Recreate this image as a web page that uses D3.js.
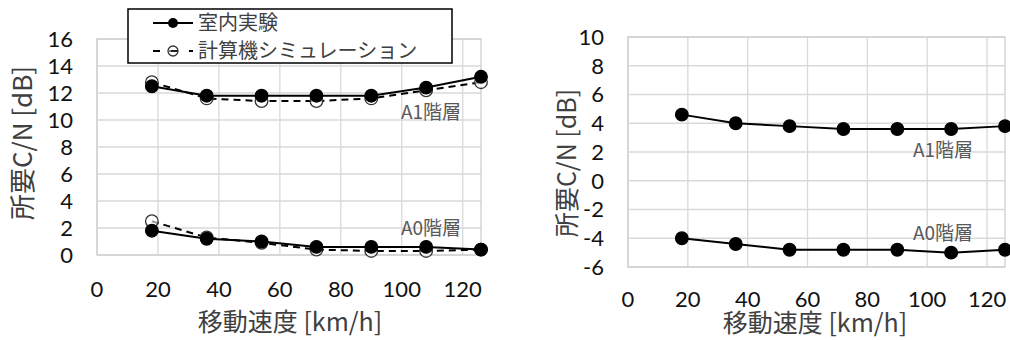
<!DOCTYPE html>
<html><head><meta charset="utf-8">
<script src="https://cdn.jsdelivr.net/npm/d3@7"></script>
<style>
html,body{margin:0;padding:0;background:#fff;}
svg{display:block;font-family:"Noto Sans CJK JP","Noto Sans",sans-serif;}
.tick{font-family:Lato,"Noto Sans",sans-serif;}
</style></head>
<body><svg id="c" width="1010" height="340"></svg>
<script>
// ---- data ----
const speeds = [18, 36, 54, 72, 90, 108, 126];
const xTicks = [0, 20, 40, 60, 80, 100, 120];
const leftYTicks = [0, 2, 4, 6, 8, 10, 12, 14, 16];
const rightYTicks = [-6, -4, -2, 0, 2, 4, 6, 8, 10];
const leftA1Exp = [12.5, 11.8, 11.8, 11.8, 11.8, 12.4, 13.2];
const leftA1Sim = [12.8, 11.6, 11.4, 11.4, 11.6, 12.2, 12.8];
const leftA0Exp = [1.8, 1.2, 1.0, 0.6, 0.6, 0.6, 0.4];
const leftA0Sim = [2.5, 1.3, 0.9, 0.4, 0.3, 0.3, 0.4];
const rightA1 = [4.6, 4.0, 3.8, 3.6, 3.6, 3.6, 3.8];
const rightA0 = [-4.0, -4.4, -4.8, -4.8, -4.8, -5.0, -4.8];
const legendLabels = ["室内実験", "計算機シミュレーション"];
const xTitle = "移動速度 [km/h]";
const yTitle = "所要C/N [dB]";
const layerLabels = ["A1階層", "A0階層"];

const svg = d3.select("#c");

function panel(cfg) {
  const g = svg.append("g");
  const x = d3.scaleLinear().domain([0, 126]).range([cfg.x0, cfg.x1]);
  const y = d3.scaleLinear().domain(cfg.yDomain).range([cfg.y0, cfg.y1]);
  // grid
  g.append("g").selectAll("line").data(xTicks).join("line")
    .attr("x1", d => x(d)).attr("x2", d => x(d))
    .attr("y1", cfg.y0).attr("y2", cfg.y1)
    .attr("stroke", "#d9d9d9").attr("stroke-width", 1.3);
  g.append("g").selectAll("line").data(cfg.yTicks).join("line")
    .attr("x1", cfg.x0).attr("x2", cfg.x1)
    .attr("y1", d => y(d)).attr("y2", d => y(d))
    .attr("stroke", "#d9d9d9").attr("stroke-width", 1.3);
  g.append("rect").attr("x", cfg.x0).attr("y", cfg.y1)
    .attr("width", cfg.x1 - cfg.x0).attr("height", cfg.y0 - cfg.y1)
    .attr("fill", "none").attr("stroke", "#d0d0d0").attr("stroke-width", 1.3);
  // y tick labels
  g.append("g").attr("class", "tick").selectAll("text").data(cfg.yTicks).join("text")
    .attr("x", cfg.yLabelX).attr("y", d => y(d)).attr("dy", "0.36em")
    .attr("text-anchor", "end").attr("font-size", 22).attr("fill", "#111")
    .text(d => d);
  // x tick labels
  g.append("g").attr("class", "tick").selectAll("text").data(xTicks).join("text")
    .attr("x", d => x(d)).attr("y", cfg.xLabelY).attr("dy", "0.36em")
    .attr("text-anchor", "middle").attr("font-size", 22).attr("fill", "#111")
    .text(d => d);
  // titles
  g.append("text").attr("x", cfg.xTitleX).attr("y", cfg.xTitleY).attr("dy", "0.36em")
    .attr("text-anchor", "middle").attr("font-size", 25).attr("fill", "#404040").text(xTitle);
  g.append("text").attr("transform", `translate(${cfg.yTitleX},${cfg.yTitleY}) rotate(-90)`)
    .attr("dy", "0.36em").attr("text-anchor", "middle").attr("font-size", cfg.yTitleSize)
    .attr("fill", "#404040").text(yTitle);
  // annotations
  cfg.labels.forEach((l, i) => {
    g.append("text").attr("x", l[0]).attr("y", l[1]).attr("dy", "0.36em")
      .attr("text-anchor", "middle").attr("font-size", 19).attr("fill", "#595959")
      .text(layerLabels[i]);
  });
  const line = d3.line().x((d, i) => x(speeds[i])).y(d => y(d));
  function series(vals, dashed, filled) {
    g.append("path").datum(vals).attr("d", line).attr("fill", "none")
      .attr("stroke", "#000").attr("stroke-width", 2)
      .attr("stroke-dasharray", dashed ? "7,5" : null);
    g.append("g").selectAll("circle").data(vals).join("circle")
      .attr("cx", (d, i) => x(speeds[i])).attr("cy", d => y(d)).attr("r", 6.3)
      .attr("fill", filled ? "#000" : "#fff").attr("fill-opacity", filled ? 1 : 0.6)
      .attr("stroke", filled ? "#000" : "#333").attr("stroke-width", 1.3);
  }
  cfg.series.forEach(s => series(s[0], s[1], s[2]));
  return g;
}

panel({
  x0: 97, x1: 481, y0: 255, y1: 39, yDomain: [0, 16], yTicks: leftYTicks,
  yLabelX: 73, xLabelY: 289, xTitleX: 290, xTitleY: 322, yTitleX: 23, yTitleY: 143, yTitleSize: 26,
  labels: [[431, 112], [431, 228]],
  series: [[leftA1Sim, true, false], [leftA0Sim, true, false], [leftA1Exp, false, true], [leftA0Exp, false, true]]
});
panel({
  x0: 628, x1: 1005, y0: 267, y1: 37, yDomain: [-6, 10], yTicks: rightYTicks,
  yLabelX: 604, xLabelY: 299, xTitleX: 815, xTitleY: 323, yTitleX: 567, yTitleY: 163, yTitleSize: 25,
  labels: [[943, 150], [943, 233]],
  series: [[rightA1, false, true], [rightA0, false, true]]
});

// legend
const lg = svg.append("g");
lg.append("rect").attr("x", 128).attr("y", 9).attr("width", 324).attr("height", 54)
  .attr("fill", "#fff").attr("stroke", "#000").attr("stroke-width", 1.5);
const rows = [23, 51];
lg.append("line").attr("x1", 153).attr("x2", 193).attr("y1", rows[0]).attr("y2", rows[0])
  .attr("stroke", "#000").attr("stroke-width", 2);
lg.append("circle").attr("cx", 173).attr("cy", rows[0]).attr("r", 5).attr("fill", "#000");
lg.append("line").attr("x1", 153).attr("x2", 193).attr("y1", rows[1]).attr("y2", rows[1])
  .attr("stroke", "#000").attr("stroke-width", 2).attr("stroke-dasharray", "7,11");
lg.append("circle").attr("cx", 173).attr("cy", rows[1]).attr("r", 5)
  .attr("fill", "none").attr("stroke", "#333").attr("stroke-width", 1.3);
lg.append("line").attr("x1", 169).attr("x2", 177).attr("y1", rows[1]).attr("y2", rows[1])
  .attr("stroke", "#333").attr("stroke-width", 1.3);
legendLabels.forEach((t, i) => {
  lg.append("text").attr("x", 198).attr("y", rows[i]).attr("dy", "0.36em")
    .attr("font-size", 20).attr("fill", "#404040").text(t);
});
</script></body></html>
